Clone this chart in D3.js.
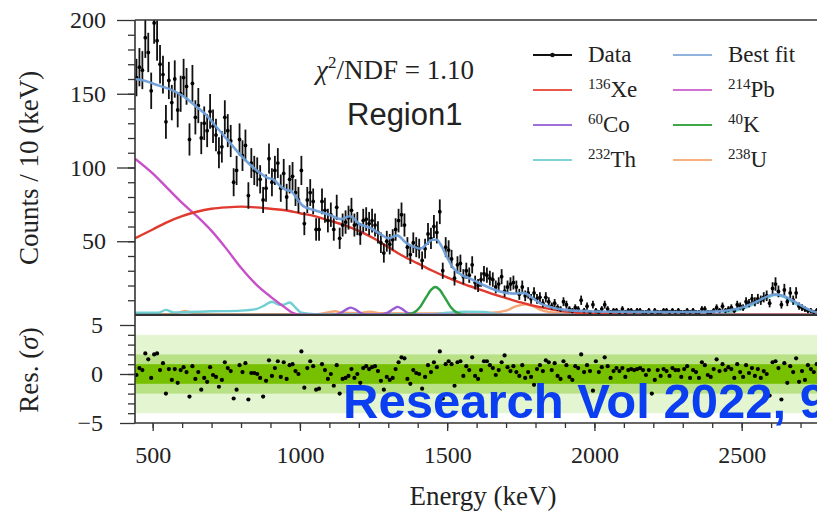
<!DOCTYPE html>
<html>
<head>
<meta charset="utf-8">
<script src="https://cdn.jsdelivr.net/npm/d3@7"></script>
<style>
  body { margin: 0; background: #fff; }
  svg text { font-family: "Liberation Serif", "Times New Roman", serif; fill: #222; }
</style>
</head>
<body>
<svg id="chart" width="817" height="513"></svg>
<script>
// spectrum, 10 keV bins starting at 440 keV
const binStart = 445;
const binStep = 10;
const counts = [
  161,168,166,188,178,152,198,186,170,163,
  131,159,144,160,139,150,161,155,119,157,
  134,142,120,130,125,138,128,122,110,114,
  134,125,118,90,98,119,108,115,81,103,
  98,97,92,78,86,106,90,98,103,86,
  96,80,92,94,83,78,98,62,78,83,
  77,58,58,77,71,64,68,58,73,52,
  61,63,66,71,61,62,55,64,65,62,
  64,61,56,49,42,50,48,51,58,64,
  68,61,46,41,49,46,45,37,45,55,
  52,60,56,70,30,46,44,38,25,34,
  35,26,30,27,34,22,20,24,28,27,
  25,24,19,21,26,16,19,21,22,19,
  14,19,13,15,11,15,11,12,8,12,
  9,6,8,5,4,9,7,4,3,5,
  4,10,3,6,2,7,3,2,4,7,
  4,2,3,3,2,4,2,3,3,2,
  3,3,2,2,3,1,3,2,2,3,
  3,2,3,2,3,2,2,3,2,3,
  2,2,4,4,2,2,3,5,3,6,
  3,4,5,3,7,6,5,9,8,11,
  9,11,10,12,13,8,18,21,16,7,
  17,9,15,10,15,6,5,4,3,3,
  2,3,2,1,2,1
];
const residuals = [
  -0.1,0.6,0.4,2.1,1.5,-0.4,2.0,2.1,0.4,1.1,
  -2.0,0.5,-0.6,0.5,-0.9,0.4,0.7,0.2,-2.3,0.8,
  -0.5,0.2,-1.6,-0.4,-0.8,0.7,-0.1,-0.3,-1.3,-0.6,
  1.2,0.6,0.3,-2.5,-1.6,0.9,0.2,1.1,-2.6,0.1,
  0.1,0.0,-0.4,-2.3,-0.7,1.4,-0.2,0.6,1.3,-0.3,
  1.2,-0.5,0.9,1.0,0.3,0.0,2.3,-1.4,0.6,1.3,
  0.8,-1.6,-1.5,1.0,0.4,-0.5,0.0,-1.2,0.9,-2.0,
  -0.5,-0.4,-0.2,0.5,-0.4,0.0,-0.9,0.6,0.8,0.5,
  0.7,0.8,0.3,-0.7,-1.6,-0.3,-0.6,-0.4,0.5,1.2,
  1.7,1.6,-0.5,-1.0,0.4,0.1,0.0,-1.5,-0.3,0.9,
  0.2,1.2,0.7,2.3,-2.5,1.0,1.3,1.0,-1.2,1.2,
  1.3,-0.2,0.8,0.4,1.7,-0.2,-0.5,0.4,1.3,1.3,
  0.9,0.6,-0.1,0.4,1.2,1.9,0.7,0.3,0.8,0.2,
  -0.2,0.9,-0.4,0.2,-0.3,-1.1,0.5,0.9,0.3,1.4,
  1.2,0.4,1.1,-0.2,-0.5,1.3,0.9,-0.3,-0.6,0.8,
  0.6,2.0,0.2,0.9,0.3,-1.7,1.3,0.2,0.7,1.7,
  0.8,-0.4,0.3,0.6,0.3,0.6,-0.3,0.4,0.5,0.4,
  0.5,0.6,0.4,-0.1,0.4,-2.0,-0.6,0.4,-0.2,0.5,
  0.3,-0.2,0.6,0.4,0.4,-0.3,0.5,0.8,-0.4,0.4,
  0.2,-0.4,1.2,0.9,-0.1,-0.3,0.5,1.5,0.3,1.0,
  0.4,0.7,0.5,-0.4,1.0,0.2,-0.3,0.9,0.1,0.6,
  -0.2,0.5,-0.4,0.3,0.0,-2.2,1.2,1.3,0.6,-2.6,
  1.1,-0.9,0.8,0.2,1.6,-0.8,0.3,-0.6,0.9,0.5,
  0.2,1.0,-0.3,0.4,-0.5,0.6
];

// fit components, [energy keV, counts]
const bestFit = [[440,160],[470,159],[500,157],[530,155],[560,153],[590,150],[620,146],[650,141],[680,136],[710,129],[740,122],[770,115],[800,108],[830,102],[860,97],[890,93],[910,92],[930,88],[950,85],[970,84],[990,79],[1010,74],[1050,71],[1100,68],[1140,65],[1170,67],[1200,62],[1240,59],[1280,54],[1300,52],[1330,54],[1360,49],[1390,46],[1410,45],[1430,48],[1450,51],[1465,51],[1480,47],[1500,39],[1520,32],[1550,27],[1580,24.5],[1610,21.5],[1650,18],[1700,15],[1730,14.5],[1760,15],[1790,11.5],[1820,7.5],[1850,5.5],[1900,3.5],[1950,2.8],[2000,2.4],[2100,2.1],[2200,2.1],[2300,2],[2400,2.3],[2450,3],[2500,5],[2550,9],[2590,12.8],[2615,14],[2640,13],[2680,9],[2720,4.5],[2750,2],[2800,1.2]];
const xe136 = [[440,52],[500,58],[550,63],[600,67],[650,70],[700,72],[750,73],[800,73.5],[850,73],[900,72],[950,71],[1000,69],[1050,67],[1100,64],[1150,61],[1200,57],[1250,52],[1300,46],[1350,40],[1400,35],[1450,30],[1500,25.5],[1550,21.5],[1600,18],[1650,14.5],[1700,11.5],[1750,8.5],[1800,6],[1850,4],[1900,2.5],[1950,1.5],[2000,0.8],[2100,0.3],[2200,0.1],[2300,0],[2800,0]];
const pb214 = [[440,106],[500,96],[550,86],[600,76],[650,67],[700,57],[750,45],[800,32],[850,21],[900,12.5],[950,5],[975,1.5],[1000,0.2],[1100,0],[2800,0]];
const co60 = [[440,0],[1110,0],[1140,1.5],[1158,3.8],[1173,5],[1188,3.8],[1205,1.5],[1230,0.3],[1270,0.3],[1300,1.8],[1318,4.2],[1332,5.5],[1346,4.2],[1365,1.5],[1395,0.2],[1450,0],[2800,0]];
const k40 = [[440,0],[1350,0],[1385,1.5],[1410,6],[1430,12.5],[1445,17],[1460,19],[1475,17],[1490,12.5],[1510,6],[1535,1.5],[1570,0],[2800,0]];
const th232 = [[440,1.5],[520,1.5],[545,3.5],[570,1.8],[620,2],[700,2.5],[800,3],[850,4],[880,6.5],[905,9],[930,7],[945,7],[965,8.5],[985,5],[1005,1.5],[1050,0.5],[1450,0.5],[1500,1.5],[1560,2.2],[1620,2],[1680,0.6],[1750,0.2],[2400,0.4],[2450,1.5],[2500,4],[2550,8],[2590,12],[2615,13.5],[2640,12.5],[2680,8],[2720,3.5],[2750,1],[2800,0.3]];
const u238 = [[440,0.5],[570,0.6],[595,2],[609,2.8],[625,2],[650,0.6],[1060,0.5],[1095,1.8],[1120,2.5],[1145,1.5],[1200,1.2],[1238,2.2],[1270,1.2],[1400,1],[1650,1.5],[1700,3],[1735,6],[1764,7.2],[1790,6],[1825,3],[1870,1.5],[1950,1.2],[2204,1.2],[2400,0.6],[2800,0.3]];

const legendNames = ["Data", "Best fit", "Xe", "Pb", "Co", "K", "Th", "U"];
const legendSups  = ["", "", "136", "214", "60", "40", "232", "238"];
const legendColors = ["#111", "#8fb3dc", "#e8584d", "#d070d0", "#a070d8", "#40a848", "#80d4d8", "#f8b080"];

const xTicks = [500, 1000, 1500, 2000, 2500];
const yTicks = [50, 100, 150, 200];
const resTicks = [-5, 0, 5];
const sigmaBands = [4, 2, 1];
const bandColors = ["#e4f5d1", "#b9e287", "#76c000"];

const serif = "'Liberation Serif', 'Times New Roman', serif";
const svg = d3.select("#chart");
const x = d3.scaleLinear().domain([440, 2800]).range([135, 830]);
const yTop = d3.scaleLinear().domain([0, 200]).range([315, 20]);
const yRes = d3.scaleLinear().domain([-5, 5]).range([423, 325]);

const axisColor = "#333";

svg.append("clipPath").attr("id", "clipTop")
  .append("rect").attr("x", 135).attr("y", 20).attr("width", 700).attr("height", 295);
svg.append("clipPath").attr("id", "clipRes")
  .append("rect").attr("x", 135).attr("y", 315).attr("width", 700).attr("height", 108);

// residual bands
const resG = svg.append("g").attr("clip-path", "url(#clipRes)");
sigmaBands.forEach((s, i) => {
  resG.append("rect")
    .attr("x", x(440)).attr("width", x(2800) - x(440))
    .attr("y", yRes(s)).attr("height", yRes(-s) - yRes(s))
    .attr("fill", bandColors[i]);
});

const bins = counts.map((c, i) => ({ e: binStart + binStep * i, c: c, r: residuals[i] }));

resG.selectAll("circle.res").data(bins).join("circle")
  .attr("class", "res")
  .attr("cx", d => x(d.e)).attr("cy", d => yRes(d.r))
  .attr("r", 2.1).attr("fill", "#000");

// top panel
const topG = svg.append("g").attr("clip-path", "url(#clipTop)");
const line = d3.line().x(d => x(d[0])).y(d => yTop(d[1])).curve(d3.curveMonotoneX);

const comps = [
  [u238, "#f4a674"], [th232, "#6fcfd3"], [co60, "#9a5ad6"], [k40, "#2ea043"],
  [pb214, "#c850c8"], [xe136, "#e0392e"]
];
comps.forEach(([pts, col]) => {
  topG.append("path").datum(pts)
    .attr("d", line).attr("fill", "none")
    .attr("stroke", col).attr("stroke-width", 2.4);
});

topG.selectAll("line.err").data(bins).join("line")
  .attr("class", "err")
  .attr("x1", d => x(d.e)).attr("x2", d => x(d.e))
  .attr("y1", d => yTop(d.c + Math.sqrt(d.c))).attr("y2", d => yTop(Math.max(0, d.c - Math.sqrt(d.c))))
  .attr("stroke", "#111").attr("stroke-width", 1.8);
topG.selectAll("circle.pt").data(bins).join("circle")
  .attr("class", "pt")
  .attr("cx", d => x(d.e)).attr("cy", d => yTop(d.c))
  .attr("r", 1.9).attr("fill", "#000");

topG.append("path").datum(bestFit)
  .attr("d", line).attr("fill", "none")
  .attr("stroke", "#6f9fd8").attr("stroke-width", 2.6).attr("opacity", 0.95);

// axes
function styleAxis(g) {
  g.select(".domain").remove();
  g.attr("color", axisColor);
  g.selectAll(".tick line").attr("stroke-width", 1.3);
  g.selectAll("text").style("font-family", serif).style("font-size", "24px").style("fill", "#222");
}

svg.append("g").attr("transform", "translate(135,0)")
  .call(d3.axisLeft(yTop).tickValues(d3.range(10, 200, 10)).tickSize(7).tickFormat(""))
  .call(styleAxis);
svg.append("g").attr("transform", "translate(135,0)")
  .call(d3.axisLeft(yTop).tickValues(yTicks).tickSize(18).tickPadding(11).tickFormat(d3.format("d")))
  .call(styleAxis);

svg.append("g").attr("transform", "translate(135,0)")
  .call(d3.axisLeft(yRes).tickValues(d3.range(-4, 5, 1)).tickSize(7).tickFormat(""))
  .call(styleAxis);
svg.append("g").attr("transform", "translate(135,0)")
  .call(d3.axisLeft(yRes).tickValues(resTicks).tickSize(15).tickPadding(17).tickFormat(d3.format("d")))
  .call(styleAxis);

svg.append("g").attr("transform", "translate(0,423)")
  .call(d3.axisBottom(x).tickValues(d3.range(500, 2800, 100)).tickSize(5).tickFormat(""))
  .call(styleAxis);
svg.append("g").attr("transform", "translate(0,423)")
  .call(d3.axisBottom(x).tickValues(xTicks).tickSize(8).tickPadding(15).tickFormat(d3.format("d")))
  .call(styleAxis);

// frame lines
const frame = svg.append("g").attr("stroke", axisColor).attr("fill", "none");
frame.append("line").attr("x1", 135).attr("x2", 135).attr("y1", 20).attr("y2", 423).attr("stroke-width", 1.6);
frame.append("line").attr("x1", 135).attr("x2", 817).attr("y1", 20).attr("y2", 20).attr("stroke-width", 1.4);
frame.append("line").attr("x1", 135).attr("x2", 817).attr("y1", 315).attr("y2", 315).attr("stroke-width", 2.2);
frame.append("line").attr("x1", 135).attr("x2", 817).attr("y1", 423).attr("y2", 423).attr("stroke-width", 1.6);

// axis titles
svg.append("text").attr("transform", "translate(38,168) rotate(-90)")
  .attr("text-anchor", "middle").attr("font-size", 27).text("Counts / 10 (keV)");
const resTitle = svg.append("text").attr("transform", "translate(38,370) rotate(-90)")
  .attr("text-anchor", "middle").attr("font-size", 27);
resTitle.append("tspan").text("Res. (");
resTitle.append("tspan").attr("font-style", "italic").text("σ");
resTitle.append("tspan").text(")");
svg.append("text").attr("x", 483).attr("y", 505)
  .attr("text-anchor", "middle").attr("font-size", 27).text("Energy (keV)");

// chi2 annotation
const chi = svg.append("text").attr("x", 316).attr("y", 79).attr("font-size", 27);
chi.append("tspan").attr("font-style", "italic").text("χ");
chi.append("tspan").attr("font-size", 17).attr("dy", -11).text("2");
chi.append("tspan").attr("dy", 11).text("/NDF = 1.10");

svg.append("text").attr("x", 347).attr("y", 125)
  .attr("font-size", 31).style("font-family", "'Liberation Sans', Arial, sans-serif")
  .text("Region1");

// legend
const legend = svg.append("g");
legendNames.forEach((name, i) => {
  const col = i % 2, row = Math.floor(i / 2);
  const lx = col === 0 ? 533 : 673;
  const ly = 55 + row * 35;
  legend.append("line").attr("x1", lx).attr("x2", lx + 39).attr("y1", ly).attr("y2", ly)
    .attr("stroke", legendColors[i]).attr("stroke-width", 2.2);
  if (i === 0) {
    legend.append("circle").attr("cx", lx + 19.5).attr("cy", ly).attr("r", 2.3).attr("fill", "#111");
  }
  const t = legend.append("text").attr("x", lx + 55).attr("y", ly + 7).attr("font-size", 23);
  if (legendSups[i]) {
    t.append("tspan").attr("font-size", 15).attr("dy", -8).text(legendSups[i]);
    t.append("tspan").attr("dy", 8).text(name);
  } else {
    t.text(name);
  }
});

// watermark
svg.append("text").attr("x", 343).attr("y", 418)
  .attr("font-size", 49).attr("font-weight", "bold")
  .style("font-family", "'Liberation Sans', Arial, sans-serif")
  .style("fill", "#0a3ef0")
  .text("Research Vol 2022, 9");
</script>
</body>
</html>
